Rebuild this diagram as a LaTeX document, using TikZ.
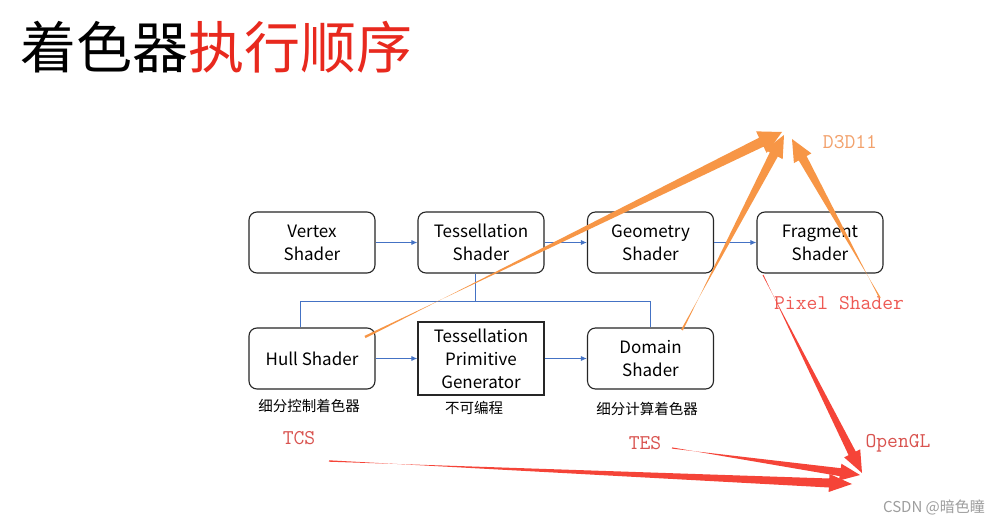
\documentclass[tikz,border=0pt]{standalone}
\usepackage{fontspec}
\newfontfamily\cjk{Noto Sans CJK SC}
\usetikzlibrary{calc,arrows.meta}
\definecolor{flowblue}{HTML}{4472C4}
\definecolor{arrorange}{HTML}{F79646}
\definecolor{arrred}{HTML}{F54438}
\definecolor{titlered}{HTML}{E8291E}
\definecolor{dtxt}{HTML}{F2A06A}
\definecolor{ptxt}{HTML}{EE5A54}
\definecolor{gtxt}{HTML}{D9534F}
% tapered arrow: #1 colour, #2 tail, #3 head, #4 tail half width, #5 neck half width, #6 head half width, #7 head length
\newcommand\taparrow[7]{%
  \path ($(#3)!#7!(#2)$) coordinate (neck);
  \fill[#1] ($(#2)!#4!90:(#3)$) -- ($(neck)!#5!-90:(#3)$) -- ($(neck)!#6!-90:(#3)$)
     -- (#3) -- ($(neck)!#6!90:(#3)$) -- ($(neck)!#5!90:(#3)$) -- ($(#2)!#4!-90:(#3)$) -- cycle;
}
\begin{document}
\begin{tikzpicture}[x=1pt,y=-1pt,
  box/.style={draw=black!85, line width=1.1pt, rounded corners=8pt, minimum width=126pt,
    minimum height=61pt, align=center, inner sep=0pt, font=\cjk\fontsize{17}{23}\selectfont},
  flow/.style={draw=flowblue, line width=0.9pt, -{Latex[length=6pt,width=5pt]}},
  tree/.style={draw=flowblue, line width=0.9pt},
  lab/.style={font=\cjk\fontsize{14.5}{16}\selectfont, inner sep=0pt},
  mono/.style={font=\ttfamily\fontsize{21}{21}\selectfont, inner sep=0pt}]
\useasboundingbox (0,0) rectangle (1003,526);
\fill[white] (0,0) rectangle (1003,526);

% title
\node[anchor=west, inner sep=0pt, font=\cjk\fontsize{56}{56}\selectfont] (title) at (20,47)
  {着色器\textcolor{titlered}{执行顺序}};

% boxes
\node[box] (vs) at (312,242.5) {Vertex\\Shader};
\node[box] (ts) at (481,242.5) {Tessellation\\Shader};
\node[box] (gs) at (650.5,242.5) {Geometry\\Shader};
\node[box] (fs) at (820,242.5) {Fragment\\Shader};
\node[box] (hs) at (312,358.5) {Hull Shader};
\node[box, rounded corners=0pt, minimum height=73pt] (tpg) at (481,358.5) {Tessellation\\Primitive\\Generator};
\node[box] (ds) at (650.5,358.5) {Domain\\Shader};

% flow connectors
\draw[flow] (vs) -- (ts);
\draw[flow] (ts) -- (gs);
\draw[flow] (gs) -- (fs);
\draw[flow] (hs) -- (tpg);
\draw[flow] (tpg) -- (ds);

% tree connector
\coordinate (j) at (475,301);
\draw[tree] (j |- ts.south) -- (j);
\draw[tree] ($(hs.north)+(-12,0)$) |- (ds.north |- j) -- (ds.north);

% labels under boxes
\node[lab] (l1) at (309,406) {细分控制着色器};
\node[lab] (l2) at (474,408) {不可编程};
\node[lab] (l3) at (647,409) {细分计算着色器};

% annotation texts
\node[mono, text=dtxt] (d3d) at (850,142) {D3D11};
\node[mono, text=ptxt] (pix) at (839,303) {Pixel Shader};
\node[mono, text=gtxt] (ogl) at (898,443) {OpenGL};
\node[mono, text=gtxt] (tes) at (645,443) {TES};
\node[mono, text=gtxt] (tcs) at (299,438) {TCS};

% orange arrows
\coordinate (o1t) at (365,337); \coordinate (o1h) at (782,132);
\coordinate (o2t) at (682,330); \coordinate (o2h) at (784,135);
\coordinate (o3t) at (880,298); \coordinate (o3h) at (792,139);
\taparrow{arrorange}{o1t}{o1h}{1.2pt}{5pt}{12pt}{23pt}
\taparrow{arrorange}{o2t}{o2h}{1pt}{4.5pt}{10pt}{22pt}
\taparrow{arrorange}{o3t}{o3h}{0.8pt}{4.5pt}{10pt}{22pt}

% red arrows
\coordinate (r1t) at (763,275); \coordinate (r1h) at (862,473);
\coordinate (r2t) at (672,448); \coordinate (r2h) at (860,475);
\coordinate (r3t) at (329,461); \coordinate (r3h) at (852,484);
\taparrow{arrred}{r1t}{r1h}{0.5pt}{4pt}{9pt}{22pt}
\taparrow{arrred}{r2t}{r2h}{0.6pt}{4pt}{8.5pt}{20pt}
\taparrow{arrred}{r3t}{r3h}{0.7pt}{4.5pt}{9pt}{23pt}

% watermark
\node[font=\cjk\fontsize{15}{15}\selectfont, text=black!38, inner sep=0pt] (wm) at (934,507) {CSDN @暗色瞳};
\end{tikzpicture}
\end{document}
